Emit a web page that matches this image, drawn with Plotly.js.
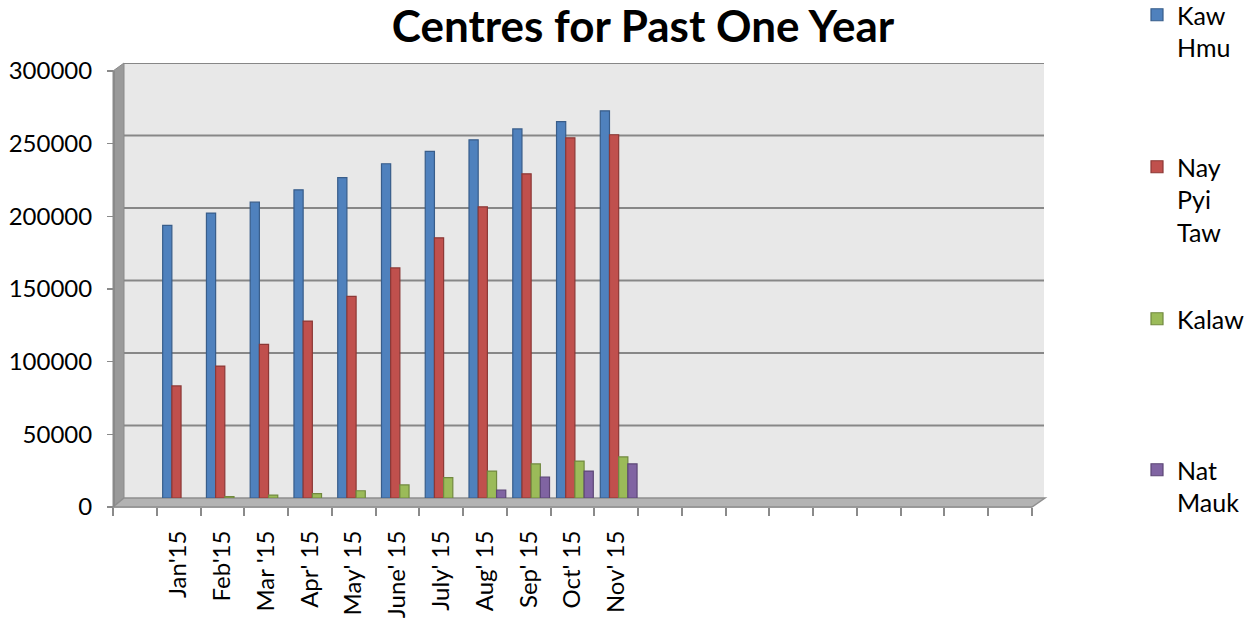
<!DOCTYPE html>
<html><head><meta charset="utf-8">
<script src="https://cdn.plot.ly/plotly-3.0.1.min.js"></script>
<style>html,body{margin:0;padding:0;background:#fff}#chart{width:1248px;height:619px}</style>
</head><body><div id="chart"></div>
<script>
// ---- data ----
const months = ["Jan'15", "Feb'15", "Mar '15", "Apr' 15", "May' 15", "June' 15", "July' 15", "Aug' 15", "Sep' 15", "Oct' 15", "Nov' 15"];
const kawHmu    = [188000, 196500, 204000, 212500, 221000, 230500, 239000, 247000, 254500, 259500, 267000];
const nayPyiTaw = [77300, 91000, 106000, 122000, 139000, 158700, 179400, 200800, 223600, 248400, 250500];
const kalaw     = [null, 1000, 2000, 3000, 5000, 9000, 14000, 18600, 23500, 25500, 28300];
const natMauk   = [null, null, null, null, null, null, null, 5500, 14500, 18600, 23500];
const seriesNames = ["Kaw<br>Hmu", "Nay<br>Pyi<br>Taw", "Kalaw", "Nat<br>Mauk"];
const yTicks = [0, 50000, 100000, 150000, 200000, 250000, 300000];
const slotCount = 21; // category slots on the axis (first blank, months, trailing blanks)

// ---- geometry helpers (layout only) ----
const L = 113, R = 216, T = 63, B = 112, W = 1248, H = 619;
const PW = W - L - R, PH = H - T - B;
const fx = px => (px - L) / PW;
const fy = py => (H - B - py) / PH;

const xPos = months.map((_, i) => i + 1);
const colors = ["#4F81BD", "#C0504D", "#9BBB59", "#8064A2"];
const edges  = ["#385D8A", "#8C3836", "#71893F", "#5C4776"];
const values = [kawHmu, nayPyiTaw, kalaw, natMauk];
const legendIds = ["legend", "legend2", "legend3", "legend4"];
const barW = 0.21, barStart = -0.365;

const traces = values.map((vals, k) => ({
  type: "bar", x: xPos, y: vals, name: seriesNames[k],
  width: barW, offset: barStart + k * barW,
  marker: {color: colors[k], line: {color: edges[k], width: 1.2}},
  legend: legendIds[k], xaxis: "x", yaxis: "y", hoverinfo: "skip"
}));
// empty helper trace so that the front value axis (y2) is drawn
traces.push({type: "scatter", x: [], y: [], xaxis: "x", yaxis: "y2", showlegend: false, hoverinfo: "skip"});

const shapes = [];
shapes.push({type: "rect", xref: "paper", yref: "paper", x0: fx(124), x1: fx(1044), y0: fy(498), y1: fy(63),
  fillcolor: "#e8e8e8", line: {width: 0}, layer: "below"});
shapes.push({type: "path", xref: "paper", yref: "paper", layer: "below",
  path: `M${fx(113)},${fy(507)} L${fx(113)},${fy(71)} L${fx(124)},${fy(63)} L${fx(124)},${fy(498)} Z`,
  fillcolor: "#9a9a9a", line: {color: "#8a8a8a", width: 1}});
shapes.push({type: "path", xref: "paper", yref: "paper", layer: "below",
  path: `M${fx(113)},${fy(507)} L${fx(124)},${fy(498)} L${fx(1045)},${fy(498)} L${fx(1032)},${fy(507)} Z`,
  fillcolor: "#b3b3b3", line: {color: "#8f8f8f", width: 1.5}});
yTicks.slice(1).forEach(v => shapes.push({type: "line", xref: "paper", yref: "y", x0: fx(124), x1: fx(1044), y0: v, y1: v,
  line: {color: "#878787", width: 2}, layer: "below"}));

const legendTops = [-8, 144, 296, 447];
const legends = {};
legendIds.forEach((id, k) => {
  legends[id] = {x: fx(1137), xanchor: "left", y: fy(legendTops[k]), yanchor: "top",
    bgcolor: "rgba(0,0,0,0)", font: {family: "Lato", size: 25, color: "#000"}, valign: "top"};
});

const layout = Object.assign({
  width: W, height: H,
  margin: {l: L, r: R, t: T, b: B, pad: 0, autoexpand: false},
  paper_bgcolor: "#fff", plot_bgcolor: "rgba(0,0,0,0)",
  title: {text: "<b>Centres for Past One Year</b>", font: {family: "Lato", size: 44, color: "#000"},
    x: 643 / W, xanchor: "center", xref: "container", y: 1 - 27 / H, yanchor: "middle", yref: "container"},
  barmode: "group",
  showlegend: true,
  xaxis: {domain: [0, 1], range: [-0.5, slotCount - 0.5], anchor: "free", position: 0,
    tickmode: "array", tickvals: xPos, ticktext: months, ticks: "", tickangle: -90,
    tickfont: {family: "Lato", size: 24, color: "#000"}, ticklabelstandoff: 13,
    minor: {ticks: "outside", tickmode: "linear", tick0: -0.5, dtick: 1, ticklen: 8, tickwidth: 2, tickcolor: "#8a8a8a", showgrid: false},
    showline: true, linecolor: "#9a9a9a", linewidth: 1, showgrid: false, zeroline: false, fixedrange: true},
  yaxis: {domain: [fy(498), 1], range: [0, 300000], showgrid: false, showticklabels: false, ticks: "",
    zeroline: false, showline: false, fixedrange: true},
  yaxis2: {domain: [0, fy(71)], anchor: "free", position: 0, side: "left", range: [0, 300000],
    tickmode: "array", tickvals: yTicks, tickformat: "d", ticks: "outside", ticklen: 6, tickwidth: 1.5, tickcolor: "#8a8a8a",
    showline: true, linecolor: "#8a8a8a", linewidth: 1.5, showgrid: false, zeroline: false,
    tickfont: {family: "Lato", size: 24, color: "#000"}, ticklabelstandoff: 10, fixedrange: true},
  shapes: shapes
}, legends);

Plotly.newPlot("chart", traces, layout, {staticPlot: true, displayModeBar: false});
</script>
</body></html>
